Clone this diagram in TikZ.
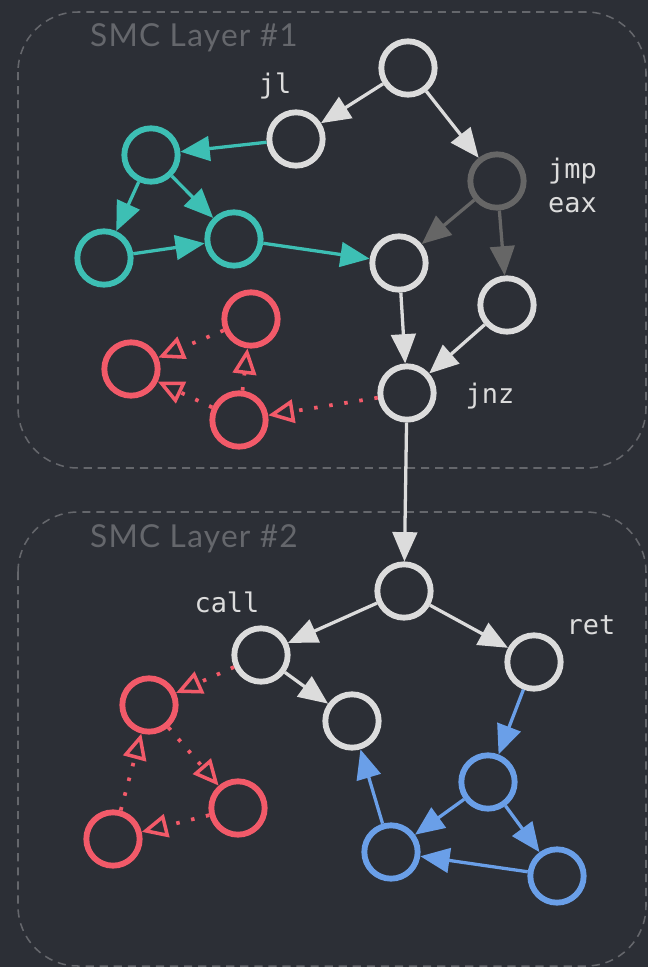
\documentclass[tikz,border=0pt]{standalone}
\usepackage{fontspec}
\setmonofont{DejaVu Sans Mono}
\newfontfamily\layerfont[LetterSpace=4]{Lato}
\usetikzlibrary{arrows.meta}

\definecolor{bgcol}{HTML}{2C2F36}
\definecolor{plain}{HTML}{DCDCDC}
\definecolor{dim}{HTML}{666666}
\definecolor{teal}{HTML}{3DBFB4}
\definecolor{junk}{HTML}{F25A69}
\definecolor{call}{HTML}{6A9FE8}
\definecolor{frame}{HTML}{65676C}

\tikzstyle{blk}=[circle,draw=#1,line width=5pt,minimum size=1.6cm,inner sep=0pt]
\tikzstyle{flow}=[draw=#1,line width=2.8pt,-{Triangle[length=25pt,width=21pt]}]
\tikzstyle{fake}=[draw=junk,line width=3.2pt,dash pattern=on 3pt off 10pt,-{Triangle[open,length=22pt,width=20pt,line width=3pt]}]
\tikzstyle{mnem}=[text=plain,font=\ttfamily\fontsize{23}{29}\selectfont,align=left]
\tikzstyle{layer}=[draw=frame,line width=1.3pt,dash pattern=on 7pt off 5pt,rounded corners=1.8cm]

\newcommand{\block}[4]{\node[blk=#1] (#2) at (#3,#4) {};}
\newcommand{\jump}[3]{\draw[#1] (#2) -- (#3);}

\begin{document}
\begin{tikzpicture}[x=0.03cm,y=-0.03cm]
    \fill[bgcol] (0,0) rectangle (648,967);
    \useasboundingbox (0,0) rectangle (648,967);

    % the two layers
    \draw[layer] (18,12) rectangle (646,468);
    \draw[layer] (18,512) rectangle (646,966);
    \node[text=frame,font=\layerfont\fontsize{27}{32}\selectfont,anchor=west] (l1) at (86,38) {SMC Layer \#1};
    \node[text=frame,font=\layerfont\fontsize{27}{32}\selectfont,anchor=west] (l2) at (86,539) {SMC Layer \#2};

    % layer 1
    \block{plain}{top}{408}{68}
    \block{plain}{jl}{296}{139}
    \block{dim}{jmp}{497}{181}
    \block{plain}{mid}{399}{263}
    \block{plain}{side}{507}{305}
    \block{plain}{jnz}{407}{393}
    \block{teal}{t1}{151}{155}
    \block{teal}{t2}{104}{258}
    \block{teal}{t3}{234}{239}
    \block{junk}{r1}{251}{319}
    \block{junk}{r2}{131}{369}
    \block{junk}{r3}{239}{420}

    \node[mnem] (jltxt) at (275,86) {jl};
    \node[mnem,anchor=west] (jmptxt) at (544,185) {jmp\\eax};
    \node[mnem] (jnztxt) at (490,396) {jnz};

    \jump{flow=plain}{top}{jl}
    \jump{flow=plain}{top}{jmp}
    \jump{flow=dim}{jmp}{mid}
    \jump{flow=dim}{jmp}{side}
    \jump{flow=plain}{mid}{jnz}
    \jump{flow=plain}{side}{jnz}
    \jump{flow=teal}{jl}{t1}
    \jump{flow=teal}{t1}{t2}
    \jump{flow=teal}{t1}{t3}
    \jump{flow=teal}{t2}{t3}
    \jump{flow=teal}{t3}{mid}
    \jump{fake}{jnz}{r3}
    \jump{fake}{r3}{r1}
    \jump{fake}{r3}{r2}
    \jump{fake}{r1}{r2}

    % layer 2
    \block{plain}{top2}{404}{591}
    \block{plain}{call}{261}{655}
    \block{plain}{ret}{534}{662}
    \block{plain}{back}{352}{721}
    \block{junk}{a}{149}{705}
    \block{junk}{b}{238}{808}
    \block{junk}{c}{113}{839}
    \block{call}{b1}{488}{782}
    \block{call}{b2}{391}{852}
    \block{call}{b3}{557}{876}

    \node[mnem] (calltxt) at (227,602) {call};
    \node[mnem] (rettxt) at (591,625) {ret};

    \jump{flow=plain}{jnz}{top2}
    \jump{flow=plain}{top2}{call}
    \jump{flow=plain}{top2}{ret}
    \jump{flow=plain}{call}{back}
    \jump{flow=call}{ret}{b1}
    \jump{flow=call}{b1}{b2}
    \jump{flow=call}{b1}{b3}
    \jump{flow=call}{b3}{b2}
    \jump{flow=call}{b2}{back}
    \jump{fake}{call}{a}
    \jump{fake}{a}{b}
    \jump{fake}{b}{c}
    \jump{fake}{c}{a}
\end{tikzpicture}
\end{document}
